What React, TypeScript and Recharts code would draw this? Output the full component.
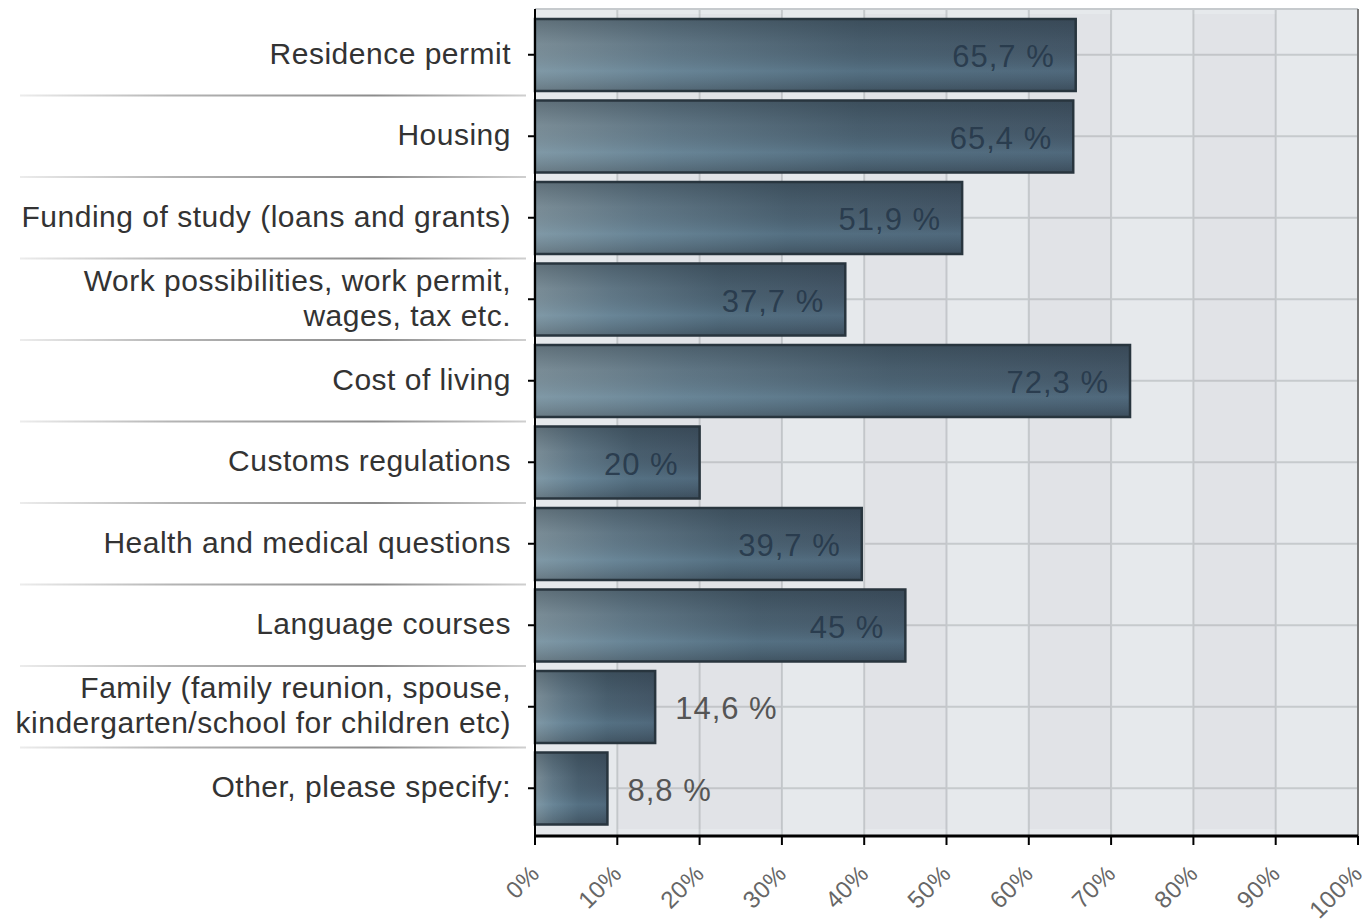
import React from 'react';
import { BarChart, Bar, XAxis, YAxis, CartesianGrid, LabelList, ReferenceLine, ReferenceArea } from 'recharts';

const categories = [
  'Residence permit',
  'Housing',
  'Funding of study (loans and grants)',
  'Work possibilities, work permit,\nwages, tax etc.',
  'Cost of living',
  'Customs regulations',
  'Health and medical questions',
  'Language courses',
  'Family (family reunion, spouse,\nkindergarten/school for children etc)',
  'Other, please specify:',
];
const values = [65.7, 65.4, 51.9, 37.7, 72.3, 20, 39.7, 45, 14.6, 8.8];
const xTicks = [0, 10, 20, 30, 40, 50, 60, 70, 80, 90, 100];
const xTickLabels = ['0%', '10%', '20%', '30%', '40%', '50%', '60%', '70%', '80%', '90%', '100%'];
const darkBandStarts = [10, 20, 40, 60, 80];
const darkBandEnds = [20, 30, 50, 70, 90];

const data = categories.map((name, i) => ({ name, value: values[i] }));

const FONT = '"Liberation Sans", Arial, sans-serif';

const formatPct = (v: number) => `${String(v).replace('.', ',')} %`;

const YTick = (props: any) => {
  const { x, y, payload, index } = props;
  const lines = String(payload.value).split('\n');
  const lh = 35;
  const startY = y - ((lines.length - 1) * lh) / 2 + 9;
  return (
    <g>
      {index < categories.length - 1 && (
        <rect x={12} y={y + 40.75 - 1} width={506} height={2} fill="url(#sepGrad)" />
      )}
      <text
        x={x}
        y={startY}
        textAnchor="end"
        fontSize={30}
        letterSpacing={0.5}
        fill="#333"
        fontFamily={FONT}
      >
        {lines.map((l, i) => (
          <tspan key={i} x={x} y={startY + i * lh}>
            {l}
          </tspan>
        ))}
      </text>
    </g>
  );
};

const XTick = (props: any) => {
  const { x, y, index } = props;
  return (
    <text
      x={0}
      y={0}
      transform={`translate(${x + 6},${y + 28}) rotate(-45)`}
      textAnchor="end"
      fontSize={24}
      letterSpacing={0.5}
      fill="#666"
      fontFamily={FONT}
    >
      {xTickLabels[index]}
    </text>
  );
};

const BarShape = (props: any) => {
  const { x, y, width, height } = props;
  if (!width || width <= 0) return null;
  return (
    <g>
      <rect x={x} y={y} width={width} height={height} fill="url(#barH)" />
      <rect x={x} y={y} width={width} height={height} fill="url(#barV)" />
      <rect x={x} y={y} width={width} height={height} fill="none" stroke="#28353e" strokeWidth={2.5} />
    </g>
  );
};

const BarLabel = (props: any) => {
  const { x, y, width, height, value } = props;
  const inside = Number(value) >= 20;
  const tx = inside ? Number(x) + Number(width) - 21 : Number(x) + Number(width) + 20;
  return (
    <text
      x={tx}
      y={Number(y) + Number(height) / 2 + 12}
      textAnchor={inside ? 'end' : 'start'}
      fontSize={31}
      letterSpacing={1}
      fill={inside ? '#26384a' : '#555'}
      fillOpacity={inside ? 0.9 : 1}
      fontFamily={FONT}
    >
      {formatPct(Number(value))}
    </text>
  );
};

export default function App() {
  return (
    <div style={{ width: 1362, height: 915, fontFamily: FONT, background: '#fff' }}>
      <BarChart
        width={1362}
        height={915}
        data={data}
        layout="vertical"
        margin={{ top: 1, right: 12, bottom: 0, left: 0 }}
      >
        <defs>
          <linearGradient id="barH" x1="0" y1="0" x2="1" y2="0">
            <stop offset="0%" stopColor="#82959f" />
            <stop offset="25%" stopColor="#657c8b" />
            <stop offset="60%" stopColor="#4c6272" />
            <stop offset="100%" stopColor="#46596a" />
          </linearGradient>
          <linearGradient id="barV" x1="0" y1="0" x2="0" y2="1">
            <stop offset="0%" stopColor="#1e2a33" stopOpacity={0.35} />
            <stop offset="35%" stopColor="#1e2a33" stopOpacity={0.08} />
            <stop offset="72%" stopColor="#78aac6" stopOpacity={0.2} />
            <stop offset="100%" stopColor="#1e2a33" stopOpacity={0.25} />
          </linearGradient>
          <linearGradient id="sepGrad" x1="0" y1="0" x2="1" y2="0">
            <stop offset="0%" stopColor="#ececec" />
            <stop offset="30%" stopColor="#b4b4b4" />
            <stop offset="70%" stopColor="#8c8c8c" />
            <stop offset="100%" stopColor="#cfcfcf" />
          </linearGradient>
        </defs>
        <CartesianGrid stroke="#c6cacd" strokeWidth={2} fill="#e6e9ec" />
        {darkBandStarts.map((s, i) => (
          <ReferenceArea key={i} x1={s} x2={darkBandEnds[i]} fill="#6a5a70" fillOpacity={0.035} stroke="none" />
        ))}
        <XAxis
          type="number"
          domain={[0, 100]}
          ticks={xTicks}
          interval={0}
          height={87}
          axisLine={{ stroke: '#000', strokeWidth: 3 }}
          tickLine={{ stroke: '#000', strokeWidth: 2 }}
          tickSize={9}
          tick={<XTick />}
        />
        <XAxis
          xAxisId="top"
          orientation="top"
          type="number"
          domain={[0, 100]}
          height={0}
          tick={false}
          tickLine={false}
          axisLine={{ stroke: '#777', strokeWidth: 2 }}
        />
        <YAxis
          type="category"
          dataKey="name"
          width={527}
          interval={0}
          tickSize={7}
          tickMargin={17}
          padding={{ top: 5, bottom: 7 }}
          axisLine={{ stroke: '#000', strokeWidth: 2 }}
          tickLine={{ stroke: '#000', strokeWidth: 2 }}
          tick={<YTick />}
        />
        <ReferenceLine x={100} stroke="#777" strokeWidth={2} />
        <Bar dataKey="value" barSize={72} shape={<BarShape />} isAnimationActive={false}>
          <LabelList dataKey="value" content={<BarLabel />} />
        </Bar>
      </BarChart>
    </div>
  );
}
